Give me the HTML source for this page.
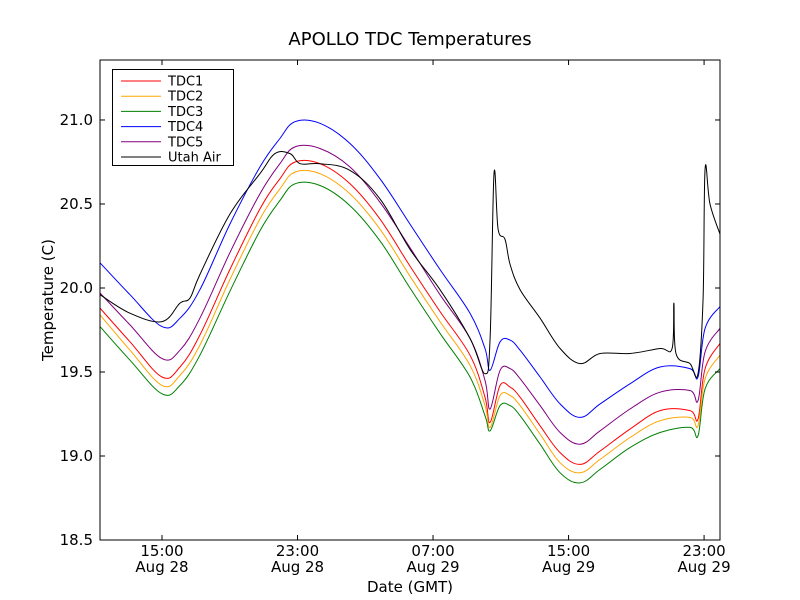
<!DOCTYPE html>
<html><head><meta charset="utf-8"><style>
html,body{margin:0;padding:0;background:#fff;}
svg{display:block;font-family:"DejaVu Sans","Liberation Sans",sans-serif;}
</style></head><body>
<svg id="chart" width="800" height="600">
<rect x="0" y="0" width="800" height="600" fill="#fff"/>
<text x="410" y="45" font-size="18" text-anchor="middle">APOLLO TDC Temperatures</text>
<g id="plot"></g>
<text x="410" y="592" font-size="15" text-anchor="middle">Date (GMT)</text>
<text x="53" y="300" font-size="15" text-anchor="middle" transform="rotate(-90 53 300)">Temperature (C)</text>
</svg>
<script>
const times = [11.34,13.11,15.0,16.06,17.24,19.01,20.78,21.96,22.85,24.33,26.10,27.87,29.64,31.41,33.18,34.07,34.37,34.96,35.55,36.14,37.32,38.50,39.68,40.86,42.63,44.40,46.17,46.64,47.06,47.94];
const tdc4 = [20.15,19.96,19.77,19.82,19.99,20.38,20.72,20.89,20.99,20.98,20.86,20.65,20.38,20.11,19.85,19.64,19.51,19.68,19.69,19.63,19.47,19.31,19.23,19.31,19.43,19.53,19.52,19.47,19.76,19.89];
const tdc5 = [19.97,19.78,19.58,19.63,19.82,20.21,20.56,20.74,20.84,20.83,20.72,20.51,20.24,19.96,19.70,19.45,19.28,19.51,19.52,19.46,19.30,19.14,19.07,19.15,19.28,19.38,19.39,19.33,19.62,19.76];
const tdc1 = [19.88,19.68,19.47,19.53,19.72,20.11,20.47,20.65,20.75,20.74,20.62,20.41,20.13,19.86,19.60,19.35,19.20,19.42,19.41,19.35,19.18,19.02,18.95,19.03,19.16,19.27,19.27,19.22,19.52,19.67];
const tdc2 = [19.84,19.63,19.42,19.48,19.66,20.05,20.41,20.59,20.69,20.68,20.56,20.35,20.07,19.80,19.54,19.30,19.17,19.36,19.36,19.30,19.13,18.96,18.90,18.98,19.11,19.21,19.23,19.18,19.46,19.60];
const tdc3 = [19.77,19.57,19.37,19.42,19.60,19.98,20.34,20.52,20.62,20.61,20.49,20.28,20.00,19.73,19.47,19.24,19.15,19.30,19.30,19.24,19.07,18.90,18.84,18.92,19.05,19.14,19.17,19.12,19.40,19.52];
const airTimes = [11.34,13.11,15.0,16.06,16.65,17.24,19.01,20.78,21.67,22.56,23.15,24.33,26.10,27.87,29.64,31.41,33.18,34.07,34.37,34.6,34.84,35.25,35.55,36.14,37.32,38.50,39.68,40.86,42.63,44.40,45.11,45.22,45.34,46.17,46.64,46.94,47.06,47.35,47.94];
const utahAir = [19.96,19.85,19.80,19.91,19.94,20.08,20.44,20.68,20.80,20.80,20.74,20.74,20.70,20.53,20.23,19.99,19.70,19.49,19.70,20.68,20.35,20.29,20.14,19.99,19.82,19.64,19.55,19.61,19.61,19.64,19.64,19.91,19.61,19.55,19.49,19.94,20.71,20.50,20.32];
const yTicks = [18.5,19.0,19.5,20.0,20.5,21.0];
const yTickLabels = ["18.5","19.0","19.5","20.0","20.5","21.0"];
const xTicks = [15,23,31,39,47];
const xTickTimes = ["15:00","23:00","07:00","15:00","23:00"];
const xTickDates = ["Aug 28","Aug 28","Aug 29","Aug 29","Aug 29"];
const seriesNames = ["TDC1","TDC2","TDC3","TDC4","TDC5","Utah Air"];
const seriesColors = ["red","orange","green","blue","purple","black"];

const L=100,R=720,T=60,B=540, xMin=11.34,xMax=47.94,yMin=18.5,yMax=21.357;
const xs=h=>L+(h-xMin)/(xMax-xMin)*(R-L);
const ys=v=>B-(v-yMin)/(yMax-yMin)*(B-T);
const NS="http://www.w3.org/2000/svg";
const g=document.getElementById('plot');
function mk(tag,attrs,parent){const e=document.createElementNS(NS,tag);for(const k in attrs)e.setAttribute(k,attrs[k]);(parent||g).appendChild(e);return e;}
function smoothPath(pts){
  let d='M'+pts[0][0].toFixed(1)+' '+pts[0][1].toFixed(1);
  const k=0.18;
  for(let i=0;i<pts.length-1;i++){
    const p0=pts[Math.max(0,i-1)],p1=pts[i],p2=pts[i+1],p3=pts[Math.min(pts.length-1,i+2)];
    const c1x=p1[0]+(p2[0]-p0[0])*k, c1y=p1[1]+(p2[1]-p0[1])*k;
    const c2x=p2[0]-(p3[0]-p1[0])*k, c2y=p2[1]-(p3[1]-p1[1])*k;
    d+=' C'+c1x.toFixed(1)+' '+c1y.toFixed(1)+' '+c2x.toFixed(1)+' '+c2y.toFixed(1)+' '+p2[0].toFixed(1)+' '+p2[1].toFixed(1);
  }
  return d;
}
const seriesData=[[times,tdc1],[times,tdc2],[times,tdc3],[times,tdc4],[times,tdc5],[airTimes,utahAir]];
seriesData.forEach((sd,i)=>{
  const pts=sd[0].map((t,j)=>[xs(t),ys(sd[1][j])]);
  const p=mk('path',{d:smoothPath(pts),fill:'none',stroke:seriesColors[i],'stroke-width':1});
  
  
});
mk('rect',{x:L,y:T,width:R-L,height:B-T,fill:'none',stroke:'#000','stroke-width':1});
yTicks.forEach((v,i)=>{
  const y=ys(v);
  mk('line',{x1:L,y1:y,x2:L+5,y2:y,stroke:'#000'});
  mk('line',{x1:R,y1:y,x2:R-5,y2:y,stroke:'#000'});
  const t=mk('text',{x:L-7,y:y+5,'font-size':15,'text-anchor':'end'});
  t.textContent=yTickLabels[i];
  
  
});
xTicks.forEach((h,i)=>{
  const x=xs(h);
  mk('line',{x1:x,y1:B,x2:x,y2:B-5,stroke:'#000'});
  mk('line',{x1:x,y1:T,x2:x,y2:T+5,stroke:'#000'});
  const t=mk('text',{x:x,y:556,'font-size':15,'text-anchor':'middle'});
  t.textContent=xTickTimes[i];
  
  
  const t2=mk('text',{x:x,y:572,'font-size':15,'text-anchor':'middle'});
  t2.textContent=xTickDates[i];
  
  
});
const lg=mk('g',{});


mk('rect',{x:112.5,y:69.5,width:121,height:96,fill:'#fff',stroke:'#000'},lg);
seriesNames.forEach((n,i)=>{
  const y=81+i*15.2;
  mk('line',{x1:121,y1:y,x2:161,y2:y,stroke:seriesColors[i]},lg);
  const t=mk('text',{x:168,y:y+4.5,'font-size':13},lg);
  t.textContent=n;
  
  
});
</script>
</body></html>
